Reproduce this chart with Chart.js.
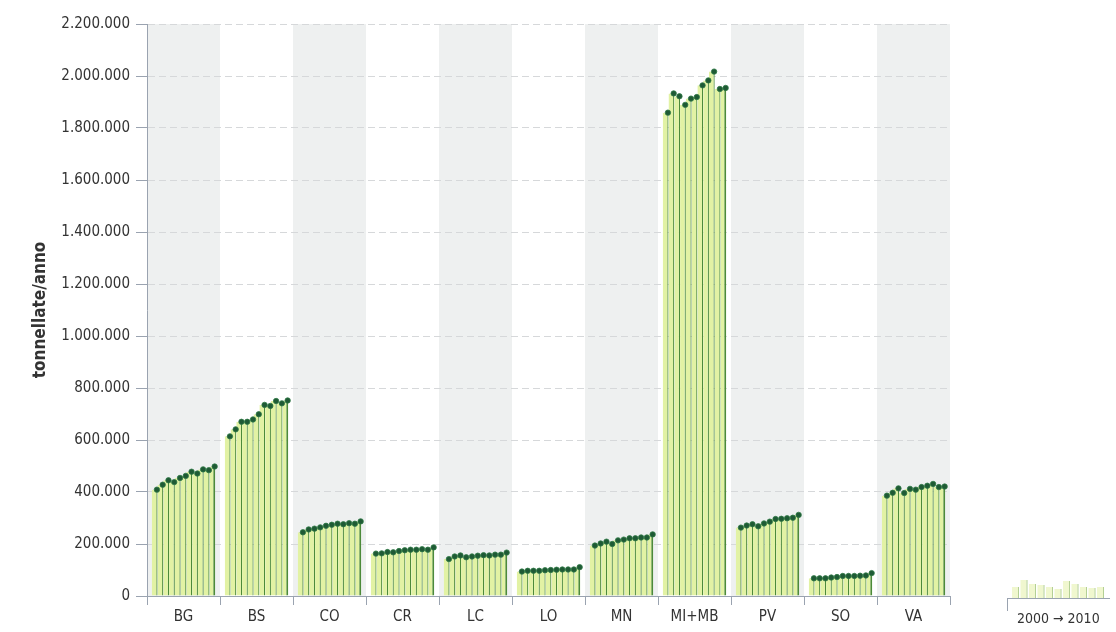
<!DOCTYPE html>
<html>
<head>
<meta charset="utf-8">
<script src="https://cdn.jsdelivr.net/npm/chart.js@4.4.1/dist/chart.umd.min.js"></script>
<style>
  html, body { margin: 0; padding: 0; background: #fff; }
  #wrap { width: 1116px; height: 632px; position: relative; }
</style>
</head>
<body>
<div id="wrap"><canvas id="chart"></canvas></div>
<script>
// province codes
const provinces = ['BG', 'BS', 'CO', 'CR', 'LC', 'LO', 'MN', 'MI+MB', 'PV', 'SO', 'VA'];
const years = ['2000', '2001', '2002', '2003', '2004', '2005', '2006', '2007', '2008', '2009', '2010'];

// tonnellate/anno, one array per province, 2000 -> 2010
const BG   = [409000, 428000, 445000, 438000, 454000, 462000, 478000, 471000, 487000, 484000, 498000];
const BS   = [614000, 641000, 670000, 670000, 679000, 699000, 735000, 731000, 750000, 741000, 752000];
const CO   = [245000, 256000, 259000, 264000, 270000, 274000, 278000, 276000, 280000, 278000, 287000];
const CR   = [163000, 164000, 169000, 168000, 173000, 176000, 178000, 178000, 180000, 178000, 187000];
const LC   = [142000, 152000, 156000, 149000, 152000, 155000, 157000, 156000, 159000, 159000, 167000];
const LO   = [94000, 97000, 97000, 97000, 99000, 100000, 101000, 102000, 102000, 102000, 111000];
const MN   = [194000, 202000, 209000, 200000, 214000, 217000, 222000, 222000, 225000, 225000, 237000];
const MIMB = [1859000, 1933000, 1922000, 1889000, 1913000, 1919000, 1964000, 1983000, 2017000, 1950000, 1954000];
const PV   = [263000, 271000, 276000, 268000, 279000, 286000, 296000, 297000, 299000, 301000, 312000];
const SO   = [68000, 68000, 68000, 71000, 73000, 77000, 77000, 77000, 78000, 79000, 88000];
const VA   = [386000, 397000, 414000, 396000, 412000, 409000, 419000, 424000, 431000, 419000, 421000];

const yTicks = [0, 200000, 400000, 600000, 800000, 1000000, 1200000, 1400000, 1600000, 1800000, 2000000, 2200000];

// little sample used only by the legend glyph
const legendSample = [11, 18, 14, 13, 11, 9, 17, 14, 11, 10, 11];

const byProvince = [BG, BS, CO, CR, LC, LO, MN, MIMB, PV, SO, VA];

const FONT = '"Liberation Sans Narrow", "DejaVu Sans Condensed", "Liberation Sans", sans-serif';

function fmt(v) {
    return String(v).replace(/\B(?=(\d{3})+(?!\d))/g, '.');
}

// one dataset per year, grouped under each province
const datasets = years.map((yr, j) => ({
    label: yr,
    data: byProvince.map(p => p[j]),
    backgroundColor: '#e2f2a4',
    borderColor: '#4c8a3a',
    borderWidth: { top: 0, left: 0, bottom: 0, right: j === years.length - 1 ? 2 : 1.2 },
    borderSkipped: false,
    categoryPercentage: 0.87,
    barPercentage: 1.0
}));

const bandsPlugin = {
    id: 'bands',
    beforeDraw(chart) {
        const { ctx, chartArea } = chart;
        const x = chart.scales.x;
        const w = x.getPixelForValue(1) - x.getPixelForValue(0);
        ctx.save();
        ctx.fillStyle = '#eef0f0';
        for (let i = 0; i < provinces.length; i += 2) {
            const cx = x.getPixelForValue(i);
            ctx.fillRect(cx - w / 2, chartArea.top, w, chartArea.bottom - chartArea.top);
        }
        ctx.restore();
    }
};

const dotsPlugin = {
    id: 'dots',
    afterDatasetsDraw(chart) {
        const { ctx } = chart;
        ctx.save();
        ctx.fillStyle = '#1f5a35';
        ctx.strokeStyle = '#2f7a45';
        ctx.lineWidth = 0.8;
        chart.data.datasets.forEach((ds, i) => {
            chart.getDatasetMeta(i).data.forEach(bar => {
                const px = bar.x + bar.width / 2 - 0.6;
                ctx.beginPath();
                ctx.arc(px, bar.y, 2.7, 0, Math.PI * 2);
                ctx.fill();
                ctx.stroke();
            });
        });
        ctx.restore();
    }
};

const legendPlugin = {
    id: 'yearLegend',
    afterDraw(chart) {
        const { ctx, chartArea } = chart;
        const base = chartArea.bottom + 2;
        const left = 1007, right = 1110;
        ctx.save();
        // mini stems
        const step = 8.5;
        legendSample.forEach((h, k) => {
            const sx = left + 11 + k * step;
            ctx.fillStyle = '#f0f7cf';
            ctx.fillRect(sx - 6, base - h, 6, h);
            ctx.strokeStyle = '#b3cf95';
            ctx.lineWidth = 1;
            ctx.beginPath();
            ctx.moveTo(sx + 0.5, base);
            ctx.lineTo(sx + 0.5, base - h);
            ctx.stroke();
        });
        // axis
        ctx.strokeStyle = '#9aa3b0';
        ctx.lineWidth = 1;
        ctx.beginPath();
        ctx.moveTo(left, base + 0.5);
        ctx.lineTo(right, base + 0.5);
        ctx.moveTo(left + 0.5, base);
        ctx.lineTo(left + 0.5, base + 13);
        ctx.stroke();
        ctx.fillStyle = '#333';
        ctx.font = '14px ' + FONT;
        ctx.textAlign = 'left';
        ctx.textBaseline = 'middle';
        ctx.fillText('2000 \u2192 2010', left + 10, base + 21);
        ctx.restore();
    }
};

new Chart(document.getElementById('chart'), {
    type: 'bar',
    data: { labels: provinces, datasets: datasets },
    options: {
        responsive: true,
        maintainAspectRatio: false,
        animation: false,
        layout: { padding: { left: 26, right: 166, top: 24, bottom: 0 } },
        plugins: {
            legend: { display: false },
            tooltip: { enabled: false }
        },
        scales: {
            x: {
                grid: {
                    offset: true,
                    drawOnChartArea: false,
                    drawTicks: true,
                    tickLength: 9,
                    tickColor: '#9aa3b0'
                },
                border: { color: '#9aa3b0', width: 1 },
                ticks: {
                    color: '#333',
                    font: { family: FONT, size: 15 },
                    padding: 3
                },
                afterFit(scale) { scale.height = 36; }
            },
            y: {
                min: 0,
                max: 2200000,
                afterBuildTicks(scale) {
                    scale.ticks = yTicks.map(v => ({ value: v }));
                },
                grid: {
                    color: '#d6d8da',
                    drawTicks: true,
                    tickLength: 11,
                    tickColor: '#9aa3b0',
                    tickBorderDash: []
                },
                border: { color: '#9aa3b0', width: 1, dash: [7, 4] },
                ticks: {
                    color: '#333',
                    font: { family: FONT, size: 15 },
                    padding: 6,
                    callback: v => fmt(v)
                },
                title: {
                    display: true,
                    text: 'tonnellate/anno',
                    color: '#333',
                    font: { family: FONT, size: 17, weight: 'bold' },
                    padding: { top: 4, bottom: 0 }
                },
                afterFit(scale) { scale.width = 121; }
            }
        }
    },
    plugins: [bandsPlugin, dotsPlugin, legendPlugin]
});
</script>
</body>
</html>
